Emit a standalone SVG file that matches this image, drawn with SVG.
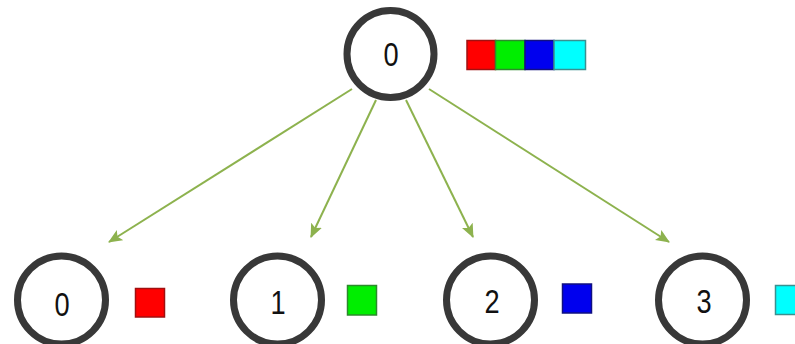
<svg xmlns="http://www.w3.org/2000/svg" width="795" height="344" viewBox="0 0 795 344">
<defs>
<style>
.node circle{fill:#fff;stroke:#383838;stroke-width:7}
.node text{font-family:"Liberation Sans",Arial,sans-serif;font-size:34px;fill:#111;text-anchor:middle}
.edge{stroke:#8db24e;stroke-width:2;fill:none;marker-end:url(#ah)}
.sq{stroke-width:1.5}
</style>
<marker id="ah" markerUnits="userSpaceOnUse" markerWidth="14" markerHeight="12" refX="13" refY="6" orient="auto">
<path d="M0,0 L14,6 L0,12 L3,6 z" fill="#8db24e"/>
</marker>
</defs>
<rect width="795" height="344" fill="#fff"/>
<g id="connectors">
<line class="edge" x1="352" y1="89" x2="109" y2="242"/>
<line class="edge" x1="376" y1="100" x2="311" y2="237"/>
<line class="edge" x1="406" y1="100" x2="473" y2="237"/>
<line class="edge" x1="429" y1="89" x2="669" y2="242"/>
</g>
<g id="root" class="node">
<circle cx="390.5" cy="54" r="43.5"/>
<text transform="translate(391,66) scale(0.8,1)">0</text>
<rect class="sq" x="467" y="40.5" width="28.5" height="29" fill="#ff0000" stroke="#a01010"/>
<rect class="sq" x="495.5" y="40.5" width="29.5" height="29" fill="#00ee00" stroke="#2c8a2c"/>
<rect class="sq" x="525" y="40.5" width="29" height="29" fill="#0000ee" stroke="#101080"/>
<rect class="sq" x="554" y="40.5" width="31.5" height="29" fill="#00ffff" stroke="#3a9090"/>
</g>
<g id="child0" class="node">
<circle cx="61.5" cy="300" r="44"/>
<text transform="translate(62,316) scale(0.8,1)">0</text>
<rect class="sq" x="135.5" y="288.5" width="29" height="28.5" fill="#ff0000" stroke="#a01010"/>
</g>
<g id="child1" class="node">
<circle cx="277.5" cy="300" r="44"/>
<text transform="translate(278,314) scale(0.8,1)">1</text>
<rect class="sq" x="347.5" y="285.5" width="29" height="29.5" fill="#00ee00" stroke="#2c8a2c"/>
</g>
<g id="child2" class="node">
<circle cx="490.5" cy="300" r="44"/>
<text transform="translate(492,313) scale(0.8,1)">2</text>
<rect class="sq" x="562.5" y="284" width="29" height="29" fill="#0000ee" stroke="#101080"/>
</g>
<g id="child3" class="node">
<circle cx="702.5" cy="300" r="44"/>
<text transform="translate(704,313) scale(0.8,1)">3</text>
<rect class="sq" x="775.5" y="285.5" width="29" height="29" fill="#00ffff" stroke="#3a9090"/>
</g>
</svg>
